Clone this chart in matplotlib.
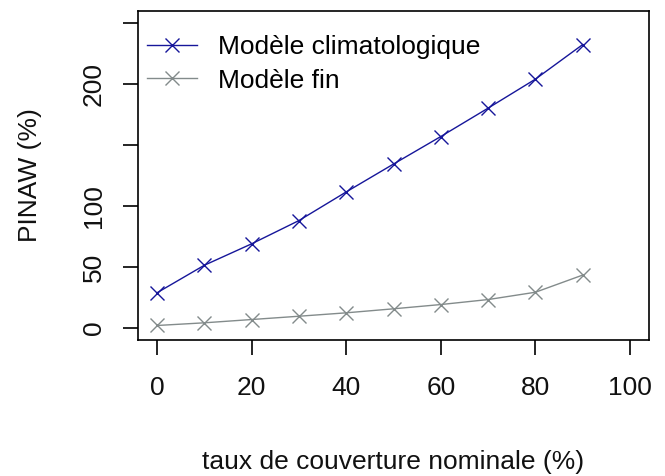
import matplotlib
matplotlib.use("Agg")
import matplotlib.pyplot as plt

plt.rcParams['font.family'] = ['Liberation Sans', 'DejaVu Sans']

coverage = [0, 10, 20, 30, 40, 50, 60, 70, 80, 90]
clim = [28.7, 51.3, 68.9, 88.0, 111.5, 134.4, 157.0, 180.3, 204.1, 232.5]
fin = [1.9, 4.1, 6.8, 9.5, 12.3, 15.6, 19.1, 23.2, 29.2, 43.3]
yticks = [0, 50, 100, 150, 200, 250]
ylabels = ['0', '50', '100', '', '200', '']
xticks = [0, 20, 40, 60, 80, 100]

c_blue = '#16169A'
c_grey = '#838B8B'
fs = 19

fig = plt.figure(figsize=(6.65, 4.76), dpi=100)
ax = fig.add_axes([138/665, 1-340/476, (649-138)/665, (340-11)/476])

ax.plot(coverage, clim, color=c_blue, lw=1.0, marker='x', ms=10, mew=1.0,
        label='Modèle climatologique')
ax.plot(coverage, fin, color=c_grey, lw=1.0, marker='x', ms=10, mew=1.0,
        label='Modèle fin')

ax.set_xlim(-4, 104)
ax.set_ylim(-10, 260)
ax.set_xticks(xticks)
ax.set_xticklabels([str(v) for v in xticks])
ax.set_yticks(yticks)
ax.set_yticklabels(ylabels)

for s in ax.spines.values():
    s.set_linewidth(1.2)
    s.set_color('black')

ax.tick_params(axis='both', length=11, width=1.2, labelsize=fs, color='black',
               labelcolor='#111111')
ax.tick_params(axis='x', pad=15)
ax.tick_params(axis='y', pad=12, labelrotation=90)
for lab in ax.get_yticklabels():
    lab.set_va('center')

ax.set_xlabel('taux de couverture nominale (%)', fontsize=fs, labelpad=36, color='#111111')
ax.set_ylabel('PINAW (%)', fontsize=fs, labelpad=29, color='#111111')

leg = ax.legend(loc='upper left', frameon=False, fontsize=fs, handlelength=1.9,
                handletextpad=0.8, borderaxespad=0.0, labelspacing=0.36,
                borderpad=0.0, bbox_to_anchor=(9/511, 1-24/329))

fig.savefig('out.png', dpi=100)
